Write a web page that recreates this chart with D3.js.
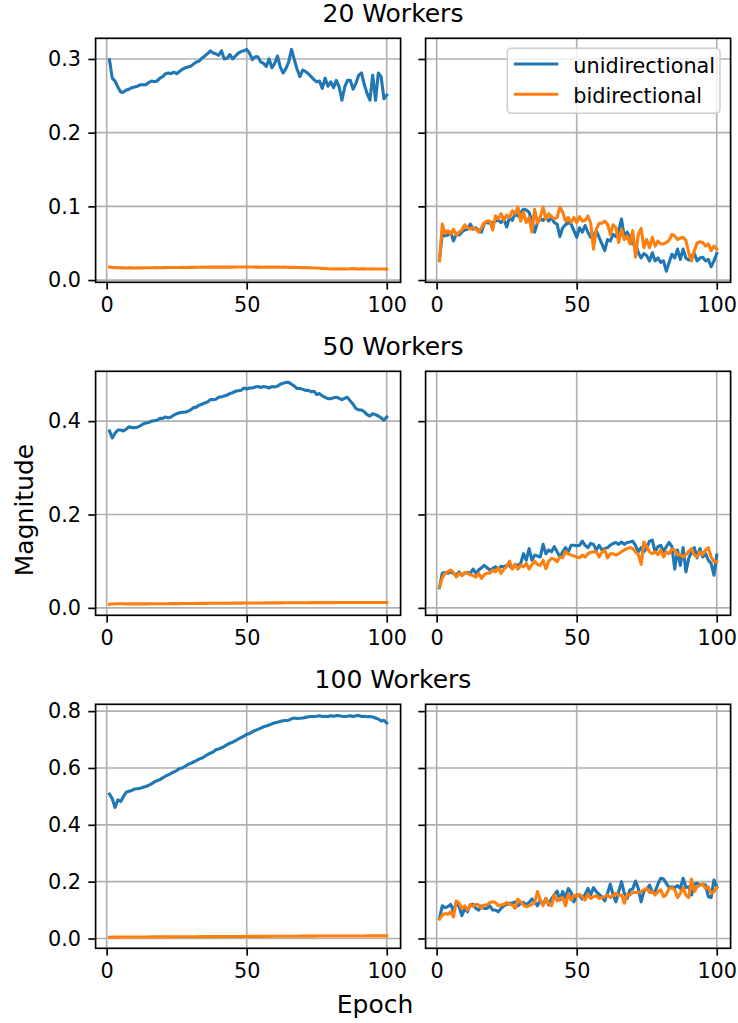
<!DOCTYPE html>
<html>
<head>
<meta charset="utf-8">
<script src="https://cdn.jsdelivr.net/npm/d3@7"></script>
<style>
  body { margin: 0; background: #fff; }
  svg { display: block; }
  text { font-family: "DejaVu Sans", sans-serif; fill: #000; }
</style>
</head>
<body>
<svg id="chart" width="738" height="1023"></svg>
<script>
// ---- data ----
const epochs = d3.range(1, 101);
const xTicks = [0, 50, 100];
const rowTitles = ["20 Workers", "50 Workers", "100 Workers"];
const seriesNames = ["unidirectional", "bidirectional"];
const seriesColors = ["#1f77b4", "#ff7f0e"];

const yTicks20 = [0, 0.1, 0.2, 0.3];
const yTicks50 = [0, 0.2, 0.4];
const yTicks100 = [0, 0.2, 0.4, 0.6, 0.8];
const yTickLabels20 = ["0.0", "0.1", "0.2", "0.3"];
const yTickLabels50 = ["0.0", "0.2", "0.4"];
const yTickLabels100 = ["0.0", "0.2", "0.4", "0.6", "0.8"];

// 20 workers
const w20LeftUni = [0.299,0.274,0.270,0.262,0.255,0.255,0.258,0.259,0.261,0.262,
  0.263,0.265,0.265,0.265,0.268,0.270,0.269,0.270,0.274,0.276,
  0.280,0.281,0.280,0.282,0.280,0.283,0.286,0.288,0.289,0.290,
  0.293,0.296,0.297,0.301,0.304,0.307,0.311,0.308,0.307,0.305,
  0.311,0.300,0.301,0.306,0.300,0.304,0.308,0.310,0.311,0.313,
  0.308,0.299,0.303,0.303,0.296,0.294,0.290,0.300,0.288,0.294,
  0.304,0.289,0.281,0.287,0.296,0.313,0.299,0.286,0.276,0.285,
  0.283,0.280,0.276,0.272,0.269,0.270,0.260,0.274,0.263,0.269,
  0.261,0.271,0.262,0.244,0.262,0.271,0.271,0.259,0.267,0.278,
  0.281,0.265,0.253,0.244,0.278,0.244,0.281,0.276,0.246,0.251];
const w20LeftBi = [0.0178,0.0172,0.0168,0.0166,0.0165,0.0165,0.0164,0.0165,0.0165,0.0164,
  0.0165,0.0166,0.0165,0.0166,0.0167,0.0166,0.0167,0.0168,0.0167,0.0168,
  0.0169,0.0170,0.0170,0.0171,0.0170,0.0171,0.0172,0.0171,0.0172,0.0173,
  0.0172,0.0173,0.0174,0.0175,0.0174,0.0175,0.0176,0.0175,0.0176,0.0175,
  0.0176,0.0177,0.0176,0.0177,0.0176,0.0177,0.0178,0.0177,0.0178,0.0179,
  0.0177,0.0178,0.0176,0.0175,0.0176,0.0174,0.0175,0.0176,0.0177,0.0176,
  0.0175,0.0174,0.0175,0.0173,0.0172,0.0173,0.0172,0.0170,0.0171,0.0169,
  0.0168,0.0167,0.0166,0.0164,0.0163,0.0160,0.0158,0.0156,0.0153,0.0150,
  0.0152,0.0153,0.0151,0.0154,0.0152,0.0150,0.0153,0.0155,0.0152,0.0151,
  0.0153,0.0152,0.0150,0.0151,0.0152,0.0150,0.0151,0.0150,0.0149,0.0148];
const w20RightUni = [0.027,0.062,0.060,0.061,0.065,0.053,0.062,0.061,0.065,0.068,
  0.069,0.076,0.069,0.071,0.067,0.065,0.077,0.078,0.077,0.078,
  0.080,0.081,0.078,0.083,0.072,0.085,0.081,0.090,0.087,0.092,
  0.096,0.095,0.092,0.080,0.065,0.078,0.083,0.081,0.085,0.080,
  0.085,0.078,0.076,0.059,0.071,0.075,0.078,0.076,0.067,0.058,
  0.071,0.065,0.074,0.065,0.058,0.060,0.067,0.058,0.049,0.040,
  0.055,0.053,0.062,0.059,0.067,0.083,0.058,0.065,0.058,0.049,
  0.049,0.037,0.030,0.036,0.033,0.026,0.037,0.026,0.030,0.024,
  0.026,0.012,0.024,0.035,0.030,0.042,0.028,0.042,0.030,0.027,
  0.033,0.036,0.026,0.030,0.031,0.026,0.028,0.018,0.026,0.036];
const w20RightBi = [0.026,0.076,0.063,0.067,0.062,0.069,0.061,0.065,0.068,0.075,
  0.071,0.069,0.071,0.069,0.065,0.071,0.078,0.080,0.080,0.068,
  0.087,0.083,0.090,0.081,0.088,0.085,0.094,0.090,0.099,0.080,
  0.092,0.078,0.085,0.065,0.096,0.077,0.085,0.099,0.083,0.090,
  0.086,0.083,0.085,0.099,0.092,0.080,0.085,0.078,0.085,0.078,
  0.086,0.080,0.081,0.087,0.077,0.042,0.069,0.077,0.077,0.080,
  0.076,0.062,0.075,0.071,0.051,0.069,0.055,0.060,0.049,0.067,
  0.031,0.062,0.070,0.044,0.055,0.044,0.058,0.046,0.053,0.049,
  0.049,0.051,0.054,0.062,0.060,0.055,0.057,0.058,0.054,0.037,
  0.026,0.040,0.050,0.052,0.051,0.046,0.049,0.040,0.046,0.042];

// 50 workers
const w50LeftUni = [0.379,0.364,0.374,0.381,0.381,0.379,0.383,0.388,0.386,0.386,
  0.387,0.390,0.394,0.396,0.397,0.400,0.401,0.402,0.406,0.406,
  0.409,0.407,0.409,0.413,0.416,0.418,0.419,0.419,0.421,0.424,
  0.429,0.430,0.434,0.436,0.439,0.441,0.446,0.446,0.447,0.451,
  0.452,0.454,0.456,0.459,0.461,0.464,0.465,0.466,0.471,0.469,
  0.471,0.471,0.473,0.474,0.472,0.474,0.473,0.471,0.474,0.473,
  0.475,0.479,0.481,0.483,0.483,0.479,0.475,0.470,0.470,0.468,
  0.466,0.466,0.463,0.464,0.457,0.459,0.454,0.451,0.448,0.448,
  0.450,0.451,0.449,0.446,0.449,0.451,0.443,0.436,0.427,0.424,
  0.424,0.420,0.414,0.411,0.416,0.414,0.411,0.407,0.402,0.409];
const w50LeftBi = [0.0078,0.0084,0.0087,0.0088,0.0088,0.0087,0.0086,0.0086,0.0085,0.0085,
  0.0085,0.0085,0.0086,0.0086,0.0086,0.0087,0.0087,0.0087,0.0088,0.0088,
  0.0089,0.0089,0.0090,0.0090,0.0091,0.0091,0.0092,0.0092,0.0093,0.0093,
  0.0094,0.0094,0.0095,0.0095,0.0096,0.0096,0.0097,0.0097,0.0098,0.0098,
  0.0099,0.0099,0.0100,0.0100,0.0101,0.0101,0.0102,0.0102,0.0103,0.0103,
  0.0104,0.0104,0.0104,0.0105,0.0105,0.0105,0.0106,0.0106,0.0106,0.0107,
  0.0107,0.0107,0.0108,0.0108,0.0108,0.0109,0.0109,0.0109,0.0110,0.0110,
  0.0110,0.0110,0.0111,0.0111,0.0111,0.0111,0.0112,0.0112,0.0112,0.0112,
  0.0112,0.0113,0.0113,0.0113,0.0113,0.0113,0.0114,0.0114,0.0114,0.0114,
  0.0114,0.0114,0.0115,0.0115,0.0115,0.0115,0.0115,0.0115,0.0116,0.0116];
const w50RightUni = [0.043,0.074,0.076,0.074,0.077,0.074,0.070,0.077,0.070,0.074,
  0.076,0.074,0.083,0.074,0.081,0.086,0.091,0.086,0.081,0.084,
  0.088,0.083,0.089,0.088,0.091,0.091,0.084,0.093,0.091,0.095,
  0.116,0.102,0.127,0.102,0.113,0.111,0.109,0.136,0.116,0.124,
  0.120,0.131,0.120,0.109,0.120,0.129,0.120,0.134,0.134,0.133,
  0.134,0.143,0.134,0.129,0.138,0.136,0.124,0.134,0.124,0.127,
  0.129,0.134,0.138,0.140,0.136,0.141,0.136,0.140,0.141,0.143,
  0.134,0.120,0.129,0.120,0.129,0.143,0.145,0.120,0.131,0.134,
  0.121,0.131,0.140,0.131,0.083,0.124,0.091,0.129,0.077,0.106,
  0.120,0.129,0.107,0.127,0.109,0.116,0.102,0.095,0.070,0.113];
const w50RightBi = [0.045,0.064,0.074,0.077,0.081,0.076,0.066,0.074,0.069,0.076,
  0.074,0.071,0.069,0.066,0.074,0.063,0.071,0.074,0.074,0.081,
  0.077,0.086,0.074,0.083,0.088,0.100,0.083,0.093,0.083,0.091,
  0.088,0.095,0.083,0.093,0.100,0.093,0.091,0.102,0.084,0.100,
  0.106,0.104,0.099,0.109,0.107,0.121,0.116,0.113,0.111,0.109,
  0.107,0.113,0.109,0.116,0.119,0.120,0.120,0.109,0.119,0.124,
  0.107,0.116,0.116,0.113,0.116,0.120,0.124,0.127,0.129,0.127,
  0.120,0.114,0.093,0.141,0.131,0.120,0.116,0.120,0.114,0.124,
  0.109,0.120,0.116,0.126,0.124,0.113,0.114,0.109,0.114,0.121,
  0.127,0.113,0.109,0.120,0.114,0.124,0.129,0.109,0.099,0.099];

// 100 workers
const w100LeftUni = [0.508,0.492,0.461,0.488,0.482,0.500,0.515,0.518,0.521,0.526,
  0.527,0.529,0.532,0.535,0.539,0.544,0.551,0.555,0.559,0.565,
  0.571,0.576,0.581,0.586,0.591,0.598,0.600,0.606,0.612,0.616,
  0.621,0.626,0.631,0.635,0.640,0.647,0.652,0.656,0.664,0.667,
  0.671,0.676,0.682,0.687,0.691,0.696,0.702,0.707,0.712,0.718,
  0.721,0.727,0.732,0.736,0.740,0.745,0.748,0.751,0.755,0.759,
  0.761,0.764,0.766,0.767,0.768,0.773,0.776,0.774,0.775,0.776,
  0.778,0.780,0.781,0.781,0.782,0.784,0.781,0.782,0.781,0.784,
  0.782,0.784,0.784,0.782,0.781,0.782,0.784,0.781,0.784,0.785,
  0.781,0.782,0.780,0.781,0.779,0.776,0.772,0.765,0.768,0.758];
const w100LeftBi = [0.0045,0.0047,0.0048,0.0049,0.0050,0.0050,0.0051,0.0051,0.0052,0.0052,
  0.0053,0.0053,0.0054,0.0054,0.0055,0.0055,0.0056,0.0056,0.0057,0.0057,
  0.0058,0.0058,0.0059,0.0059,0.0060,0.0060,0.0061,0.0061,0.0062,0.0062,
  0.0063,0.0063,0.0064,0.0064,0.0065,0.0065,0.0066,0.0066,0.0067,0.0067,
  0.0068,0.0068,0.0069,0.0069,0.0070,0.0070,0.0071,0.0071,0.0072,0.0072,
  0.0073,0.0073,0.0074,0.0074,0.0075,0.0075,0.0076,0.0076,0.0077,0.0077,
  0.0078,0.0078,0.0079,0.0079,0.0080,0.0080,0.0081,0.0081,0.0082,0.0082,
  0.0083,0.0083,0.0084,0.0084,0.0085,0.0085,0.0085,0.0086,0.0086,0.0086,
  0.0087,0.0087,0.0087,0.0088,0.0088,0.0088,0.0089,0.0089,0.0089,0.0090,
  0.0090,0.0090,0.0091,0.0091,0.0091,0.0091,0.0092,0.0092,0.0092,0.0092];
const w100RightUni = [0.071,0.115,0.108,0.112,0.120,0.096,0.127,0.112,0.080,0.106,
  0.094,0.118,0.120,0.106,0.100,0.115,0.106,0.106,0.115,0.100,
  0.100,0.094,0.106,0.115,0.120,0.124,0.124,0.129,0.115,0.124,
  0.127,0.118,0.127,0.139,0.129,0.115,0.135,0.120,0.141,0.118,
  0.139,0.153,0.167,0.135,0.165,0.144,0.176,0.162,0.129,0.153,
  0.151,0.139,0.155,0.176,0.153,0.179,0.165,0.155,0.147,0.132,
  0.159,0.191,0.153,0.129,0.165,0.200,0.159,0.141,0.171,0.174,
  0.202,0.176,0.129,0.167,0.174,0.188,0.162,0.165,0.191,0.212,
  0.209,0.194,0.179,0.182,0.179,0.186,0.176,0.212,0.179,0.182,
  0.153,0.191,0.194,0.188,0.191,0.188,0.147,0.144,0.206,0.182];
const w100RightBi = [0.068,0.082,0.088,0.085,0.094,0.076,0.132,0.124,0.106,0.115,
  0.100,0.120,0.112,0.120,0.118,0.106,0.118,0.118,0.127,0.129,
  0.127,0.115,0.118,0.120,0.127,0.120,0.118,0.106,0.139,0.129,
  0.118,0.112,0.115,0.120,0.127,0.165,0.135,0.115,0.141,0.124,
  0.115,0.153,0.132,0.141,0.144,0.115,0.155,0.135,0.153,0.147,
  0.155,0.147,0.135,0.155,0.141,0.147,0.151,0.141,0.144,0.147,
  0.153,0.144,0.151,0.159,0.151,0.153,0.124,0.155,0.153,0.162,
  0.162,0.162,0.165,0.171,0.176,0.162,0.165,0.153,0.165,0.171,
  0.147,0.155,0.176,0.179,0.171,0.144,0.159,0.179,0.153,0.144,
  0.209,0.165,0.182,0.188,0.191,0.176,0.182,0.159,0.165,0.179];

// rows of panels: [left panel series], [right panel series]
const rows = [
  { title: rowTitles[0], ticks: yTicks20, labels: yTickLabels20,
    panels: [[w20LeftUni, w20LeftBi], [w20RightUni, w20RightBi]] },
  { title: rowTitles[1], ticks: yTicks50, labels: yTickLabels50,
    panels: [[w50LeftUni, w50LeftBi], [w50RightUni, w50RightBi]] },
  { title: rowTitles[2], ticks: yTicks100, labels: yTickLabels100,
    panels: [[w100LeftUni, w100LeftBi], [w100RightUni, w100RightBi]] }
];

// ---- layout ----
const colX = [95.6, 425.6];
const axW = 305;
const rowY = [38.3, 371.3, 704.3];
const axH = 244;
const tickFont = 20.8;
const bigFont = 25;
const tickLen = 7.3;
const thin = 1.67;
const lineW = 3.1;
const gridColor = "#b0b0b0";

const svg = d3.select("#chart");

function pad(ext) {
  const span = ext[1] - ext[0];
  return [ext[0] - 0.05 * span, ext[1] + 0.05 * span];
}

const xExt = pad(d3.extent(epochs));

rows.forEach((row, r) => {
  const all = row.panels.flat(2);
  const yDom = pad(d3.extent(all));

  svg.append("text")
    .attr("x", 393)
    .attr("y", rowY[r] - 16.3)
    .attr("text-anchor", "middle")
    .attr("font-size", bigFont)
    .text(row.title);

  row.panels.forEach((series, c) => {
    const g = svg.append("g").attr("transform", `translate(${colX[c]},${rowY[r]})`);
    const x = d3.scaleLinear().domain(xExt).range([0, axW]);
    const y = d3.scaleLinear().domain(yDom).range([axH, 0]);

    // grid
    g.append("g").selectAll("line").data(xTicks).join("line")
      .attr("x1", d => x(d)).attr("x2", d => x(d))
      .attr("y1", 0).attr("y2", axH)
      .attr("stroke", gridColor).attr("stroke-width", thin);
    g.append("g").selectAll("line").data(row.ticks).join("line")
      .attr("x1", 0).attr("x2", axW)
      .attr("y1", d => y(d)).attr("y2", d => y(d))
      .attr("stroke", gridColor).attr("stroke-width", thin);

    // series
    const line = d3.line().x((d, i) => x(epochs[i])).y(d => y(d));
    series.forEach((vals, s) => {
      g.append("path")
        .attr("d", line(vals))
        .attr("fill", "none")
        .attr("stroke", seriesColors[s])
        .attr("stroke-width", lineW)
        .attr("stroke-linejoin", "round")
        .attr("stroke-linecap", "square");
    });

    // axes
    const xAxis = d3.axisBottom(x).tickValues(xTicks).tickSize(tickLen).tickPadding(tickLen)
      .tickFormat(d3.format("d"));
    const gx = g.append("g").attr("transform", `translate(0,${axH})`).call(xAxis);
    const yAxis = d3.axisLeft(y).tickValues(row.ticks).tickSize(tickLen).tickPadding(tickLen)
      .tickFormat((d, i) => c === 0 ? row.labels[i] : "");
    const gy = g.append("g").call(yAxis);
    [gx, gy].forEach(a => {
      a.select(".domain").remove();
      a.selectAll(".tick line").attr("stroke", "#000").attr("stroke-width", thin);
      a.selectAll(".tick text")
        .attr("font-size", tickFont)
        .attr("font-family", "DejaVu Sans")
        .attr("fill", "#000");
    });

    // frame
    g.append("rect")
      .attr("width", axW).attr("height", axH)
      .attr("fill", "none").attr("stroke", "#000").attr("stroke-width", thin);

    // legend
    if (r === 0 && c === 1) {
      const lg = svg.append("g").attr("transform", "translate(507.3,48.3)");
      lg.append("rect")
        .attr("width", 212.7).attr("height", 65)
        .attr("rx", 4).attr("ry", 4)
        .attr("fill", "#fff").attr("fill-opacity", 0.8)
        .attr("stroke", "#cccccc").attr("stroke-width", 1.5);
      seriesNames.forEach((name, i) => {
        const yy = 15.7 + i * 30.3;
        lg.append("line")
          .attr("x1", 6.7).attr("x2", 51)
          .attr("y1", yy).attr("y2", yy)
          .attr("stroke", seriesColors[i]).attr("stroke-width", lineW);
        lg.append("text")
          .attr("x", 66).attr("y", yy + 8.6)
          .attr("font-size", tickFont)
          .text(name);
      });
    }
  });
});

svg.append("text")
  .attr("x", 375).attr("y", 1012.7)
  .attr("text-anchor", "middle")
  .attr("font-size", bigFont)
  .text("Epoch");

svg.append("text")
  .attr("transform", "translate(33,510) rotate(-90)")
  .attr("text-anchor", "middle")
  .attr("font-size", bigFont)
  .text("Magnitude");
</script>
</body>
</html>
